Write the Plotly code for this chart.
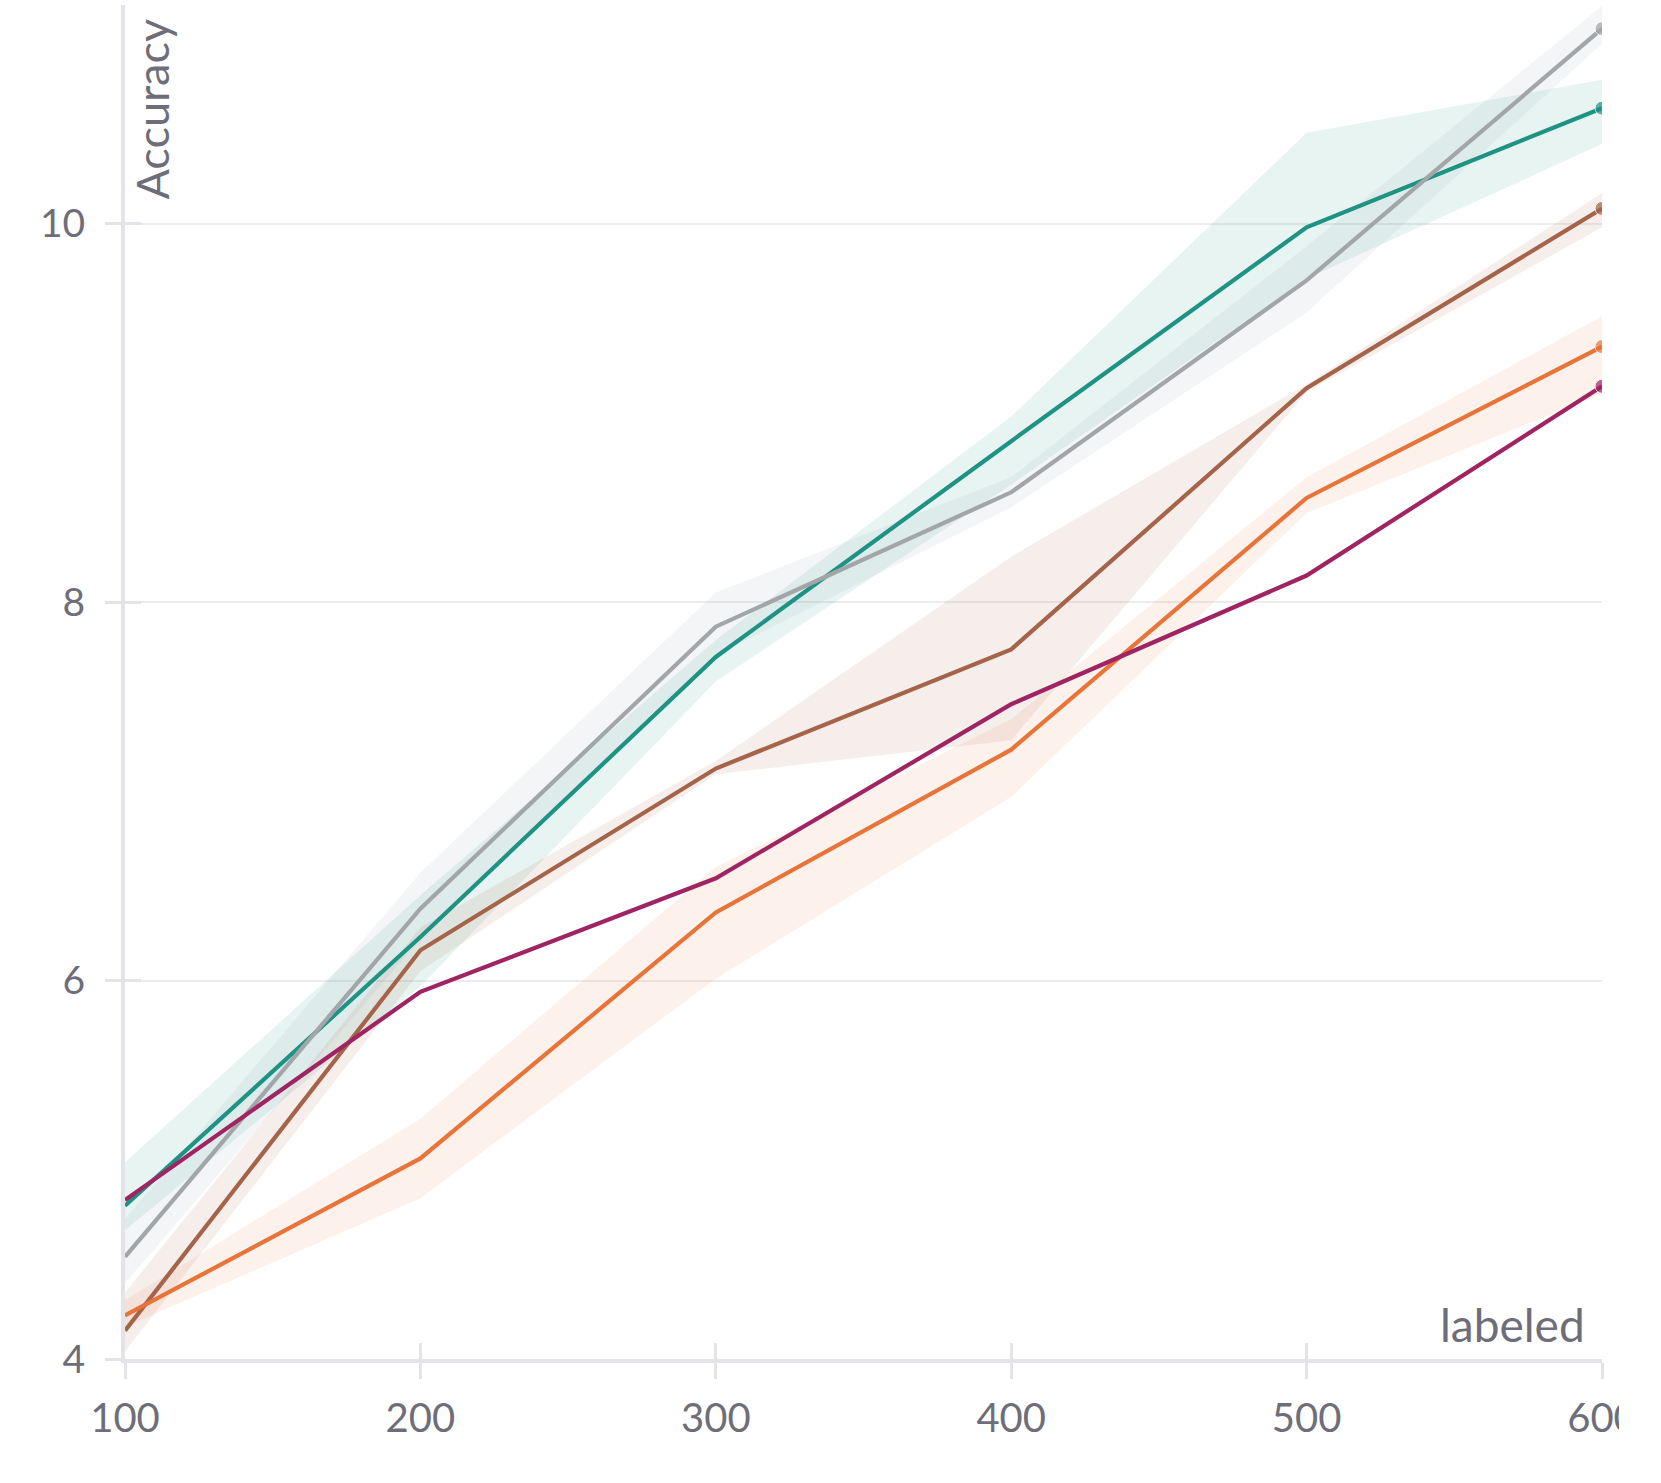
import plotly.graph_objects as go

labeled = [100, 200, 300, 400, 500, 600]

teal = [4.81, 6.23, 7.71, 8.85, 9.98, 10.61]
teal_hi = [5.04, 6.45, 7.80, 8.98, 10.48, 10.76]
teal_lo = [4.68, 5.97, 7.58, 8.62, 9.71, 10.42]

gray = [4.54, 6.38, 7.87, 8.58, 9.70, 11.03]
gray_hi = [4.74, 6.57, 8.05, 8.66, 9.88, 11.15]
gray_lo = [4.40, 6.22, 7.72, 8.50, 9.53, 10.95]

brown = [4.15, 6.16, 7.12, 7.75, 9.13, 10.08]
brown_hi = [4.35, 6.28, 7.16, 8.24, 9.15, 10.16]
brown_lo = [4.04, 6.05, 7.09, 7.27, 9.11, 9.98]

orange = [4.23, 5.06, 6.36, 7.22, 8.55, 9.35]
orange_hi = [4.31, 5.27, 6.60, 7.38, 8.66, 9.51]
orange_lo = [4.17, 4.85, 6.01, 6.97, 8.47, 9.10]

purple = [4.84, 5.94, 6.54, 7.46, 8.14, 9.14]

x_ticks = [100, 200, 300, 400, 500, 600]
y_ticks = [4, 6, 8, 10]

series = [
    ("teal", teal, teal_lo, teal_hi, "#1f9383", "rgba(31,147,131,0.10)"),
    ("gray", gray, gray_lo, gray_hi, "#a3a6a9", "rgba(150,160,178,0.11)"),
    ("brown", brown, brown_lo, brown_hi, "#a5634a", "rgba(165,99,74,0.11)"),
    ("orange", orange, orange_lo, orange_hi, "#e8743a", "rgba(232,116,58,0.10)"),
    ("purple", purple, None, None, "#a02462", None),
]

FONT = "Lato"
TXT = "#6e6e7a"
AX = "#e4e4e8"

fig = go.Figure()

# bands
for name, y, lo, hi, col, fill in series:
    if lo is None:
        continue
    fig.add_trace(go.Scatter(x=labeled, y=hi, mode="lines", line=dict(width=0),
                             showlegend=False, hoverinfo="skip"))
    fig.add_trace(go.Scatter(x=labeled, y=lo, mode="lines", line=dict(width=0),
                             fill="tonexty", fillcolor=fill,
                             showlegend=False, hoverinfo="skip"))

# lines
for name, y, lo, hi, col, fill in series:
    fig.add_trace(go.Scatter(
        x=labeled, y=y, mode="lines+markers", name=name,
        line=dict(color=col, width=4.2),
        marker=dict(color=col, size=[0, 0, 0, 0, 0, 14]),
        showlegend=False))

# invisible trace on overlay axes (for inside tick halves)
fig.add_trace(go.Scatter(x=labeled, y=teal, xaxis="x2", yaxis="y2", mode="lines",
                         line=dict(width=0), showlegend=False, hoverinfo="skip"))

yr = [4, 11.155]
xr = [100, 600]

fig.update_layout(
    width=1619, height=1483,
    margin=dict(l=125, r=17, t=5, b=124),
    paper_bgcolor="white", plot_bgcolor="white",
    font=dict(family=FONT, color=TXT, size=40),
    xaxis=dict(range=xr, tickvals=x_ticks, ticks="outside", ticklen=16, tickwidth=3,
               tickcolor=AX, showline=True, linecolor=AX, linewidth=4,
               showgrid=False, zeroline=False, ticklabelstandoff=5,
               ticklabeloverflow="allow", automargin=False,
               tickfont=dict(family=FONT, size=40, color=TXT)),
    yaxis=dict(range=yr, tickvals=y_ticks, ticks="outside", ticklen=16, tickwidth=3,
               tickcolor=AX, showline=True, linecolor=AX, linewidth=4,
               showgrid=True, gridcolor="#ececec", gridwidth=1.5, zeroline=False,
               ticklabelstandoff=12, ticklabeloverflow="allow", automargin=False,
               tickfont=dict(family=FONT, size=39, color=TXT)),
    xaxis2=dict(range=xr, tickvals=x_ticks, overlaying="x", anchor="y2", side="bottom",
                ticks="inside", ticklen=16, tickwidth=3, tickcolor=AX, automargin=False,
                showticklabels=False, showgrid=False, showline=False, zeroline=False),
    yaxis2=dict(range=yr, tickvals=y_ticks, overlaying="y", anchor="x2", side="left",
                ticks="inside", ticklen=16, tickwidth=3, tickcolor=AX, automargin=False,
                showticklabels=False, showgrid=False, showline=False, zeroline=False),
    annotations=[
        dict(text="Accuracy", xref="paper", yref="paper", x=0, y=1,
             xanchor="left", yanchor="top", xshift=-3, yshift=-12, textangle=-90,
             showarrow=False, font=dict(family=FONT, size=45, color=TXT)),
        dict(text="labeled", xref="paper", yref="paper", x=1, y=0,
             xanchor="right", yanchor="bottom", xshift=-15, yshift=5,
             showarrow=False, font=dict(family=FONT, size=46, color=TXT)),
    ],
)

fig.write_html("out.html", config={"displayModeBar": False},
               post_script="document.body.style.margin='0px';")
